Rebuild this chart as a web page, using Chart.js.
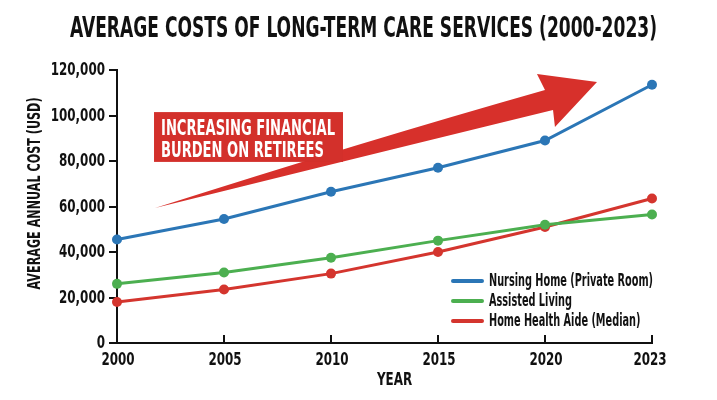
<!DOCTYPE html>
<html>
<head>
<meta charset="utf-8">
<script src="https://cdn.jsdelivr.net/npm/chart.js@4.4.1/dist/chart.umd.min.js"></script>
<style>
    html, body { margin: 0; padding: 0; background: #fff; }
    #chart { display: block; }
</style>
</head>
<body>
<canvas id="chart" width="717" height="400"></canvas>
<script>
const YEARS = ["2000", "2005", "2010", "2015", "2020", "2023"];
const NURSING_HOME = [45500, 54500, 66500, 77000, 89000, 113500];
const ASSISTED_LIVING = [26000, 31000, 37500, 45000, 52000, 56500];
const HOME_HEALTH_AIDE = [18000, 23500, 30500, 40000, 51000, 63500];
const Y_TICKS = [0, 20000, 40000, 60000, 80000, 100000, 120000];

const TITLE = "AVERAGE COSTS OF LONG-TERM CARE SERVICES (2000-2023)";
const Y_TITLE = "AVERAGE ANNUAL COST (USD)";
const X_TITLE = "YEAR";
const CALLOUT_LINES = ["INCREASING FINANCIAL", "BURDEN ON RETIREES"];

const FONT = "'DejaVu Sans Condensed', 'DejaVu Sans', sans-serif";
const INK = "#111";
const BLUE = "#2b76b6";
const GREEN = "#4caf50";
const RED = "#d4352e";
const ARROW_RED = "#d7302b";

// contorno da seta, em (indice da categoria, valor)
const ARROW = [
    [0.355, 59300],
    [2.3, 88500],
    [4.0, 111200],
    [3.925, 118200],
    [4.486, 114700],
    [4.093, 94900],
    [4.075, 102400],
    [2.3, 82000]
];

// texto condensado: escala horizontal sx
function texto(ctx, str, x, y, size, sx, align = "left", baseline = "middle") {
    ctx.save();
    ctx.font = "bold " + size + "px " + FONT;
    ctx.textAlign = align;
    ctx.textBaseline = baseline;
    ctx.translate(x, y);
    ctx.scale(sx, 1);
    ctx.fillText(str, 0, 0);
    ctx.restore();
}

function largura(ctx, str, size) {
    ctx.save();
    ctx.font = "bold " + size + "px " + FONT;
    const w = ctx.measureText(str).width;
    ctx.restore();
    return w;
}

const textosPlugin = {
    id: "textos",
    afterDraw(chart) {
        const ctx = chart.ctx;
        const xs = chart.scales.x;
        const ys = chart.scales.y;
        const area = chart.chartArea;

        ctx.save();
        ctx.fillStyle = INK;

        // titulo
        const tw = largura(ctx, TITLE, 28);
        texto(ctx, TITLE, 363.5, 30, 28, 587 / tw, "center");

        // rotulos do eixo y
        ys.ticks.forEach(t => {
            texto(ctx, t.value.toLocaleString("en-US"), area.left - 12, ys.getPixelForValue(t.value) + 1, 17, 0.78, "right");
        });

        // rotulos do eixo x e ticks para dentro
        ctx.strokeStyle = INK;
        ctx.lineWidth = 2;
        YEARS.forEach((ano, i) => {
            const x = xs.getPixelForValue(i);
            ctx.beginPath();
            ctx.moveTo(x, area.bottom);
            ctx.lineTo(x, area.bottom - 8);
            ctx.stroke();
            texto(ctx, ano, i === YEARS.length - 1 ? x - 2 : x + 1, area.bottom + 18, 17, 0.78, "center");
        });

        // titulos dos eixos
        texto(ctx, X_TITLE, (area.left + area.right) / 2 + 10, area.bottom + 38, 17, 0.78, "center");
        ctx.save();
        ctx.translate(35, (area.top + area.bottom) / 2 - 13);
        ctx.rotate(-Math.PI / 2);
        const yw = largura(ctx, Y_TITLE, 18);
        texto(ctx, Y_TITLE, 0, 0, 18, 192 / yw, "center");
        ctx.restore();

        // legenda dentro da area
        const sets = chart.data.datasets;
        const sx = 164 / largura(ctx, sets[0].label, 17);
        const textX = area.left + 372;
        sets.forEach((d, k) => {
            const y = area.bottom - 62 + k * 20;
            ctx.strokeStyle = d.borderColor;
            ctx.lineWidth = 4;
            ctx.lineCap = "round";
            ctx.beginPath();
            ctx.moveTo(textX - 36, y);
            ctx.lineTo(textX - 7, y);
            ctx.stroke();
            ctx.fillStyle = INK;
            texto(ctx, d.label, textX, y + 1, 17, sx, "left");
        });
        ctx.restore();
    }
};

const arrowPlugin = {
    id: "seta",
    beforeDatasetsDraw(chart) {
        const ctx = chart.ctx;
        const xs = chart.scales.x;
        const ys = chart.scales.y;
        const p = ARROW.map(([i, v]) => [xs.getPixelForValue(i), ys.getPixelForValue(v)]);

        ctx.save();
        ctx.fillStyle = ARROW_RED;
        ctx.beginPath();
        ctx.moveTo(p[0][0], p[0][1]);
        ctx.quadraticCurveTo(p[1][0], p[1][1], p[2][0], p[2][1]);
        ctx.lineTo(p[3][0], p[3][1]);
        ctx.lineTo(p[4][0], p[4][1]);
        ctx.lineTo(p[5][0], p[5][1]);
        ctx.lineTo(p[6][0], p[6][1]);
        ctx.quadraticCurveTo(p[7][0], p[7][1], p[0][0], p[0][1]);
        ctx.closePath();
        ctx.fill();

        // caixa do texto
        const left = xs.getPixelForValue(0.346);
        const right = xs.getPixelForValue(2.112);
        const top = ys.getPixelForValue(101500);
        const bottom = ys.getPixelForValue(79600);
        ctx.fillStyle = "#d3302b";
        ctx.fillRect(left, top, right - left, bottom - top);

        ctx.fillStyle = "#fff";
        const s1 = 174 / largura(ctx, CALLOUT_LINES[0], 22);
        texto(ctx, CALLOUT_LINES[0], left + 7, top + 23, 22, s1, "left", "alphabetic");
        texto(ctx, CALLOUT_LINES[1], left + 7, top + 45, 22, s1, "left", "alphabetic");
        ctx.restore();
    }
};

function serie(label, data, cor) {
    return {
        label,
        data,
        borderColor: cor,
        backgroundColor: cor,
        borderWidth: 3,
        pointRadius: 5,
        pointBorderWidth: 0,
        tension: 0
    };
}

new Chart(document.getElementById("chart"), {
    type: "line",
    data: {
        labels: YEARS,
        datasets: [
            serie("Nursing Home (Private Room)", NURSING_HOME, BLUE),
            serie("Assisted Living", ASSISTED_LIVING, GREEN),
            serie("Home Health Aide (Median)", HOME_HEALTH_AIDE, RED)
        ]
    },
    options: {
        responsive: false,
        animation: false,
        layout: { padding: { top: 70, right: 65, left: 0, bottom: 0 } },
        plugins: {
            legend: { display: false },
            title: { display: false },
            tooltip: { enabled: false }
        },
        scales: {
            x: {
                offset: false,
                grid: { display: false },
                border: { display: true, color: INK, width: 2 },
                ticks: { display: false },
                afterFit(scale) { scale.height = 57; }
            },
            y: {
                min: 0,
                max: 120000,
                afterBuildTicks(scale) {
                    scale.ticks = Y_TICKS.map(v => ({ value: v }));
                },
                grid: { drawOnChartArea: false, color: INK, lineWidth: 2, tickLength: 8 },
                border: { display: true, color: INK, width: 2 },
                ticks: { display: false },
                afterFit(scale) { scale.width = 117; }
            }
        }
    },
    plugins: [arrowPlugin, textosPlugin]
});
</script>
</body>
</html>
